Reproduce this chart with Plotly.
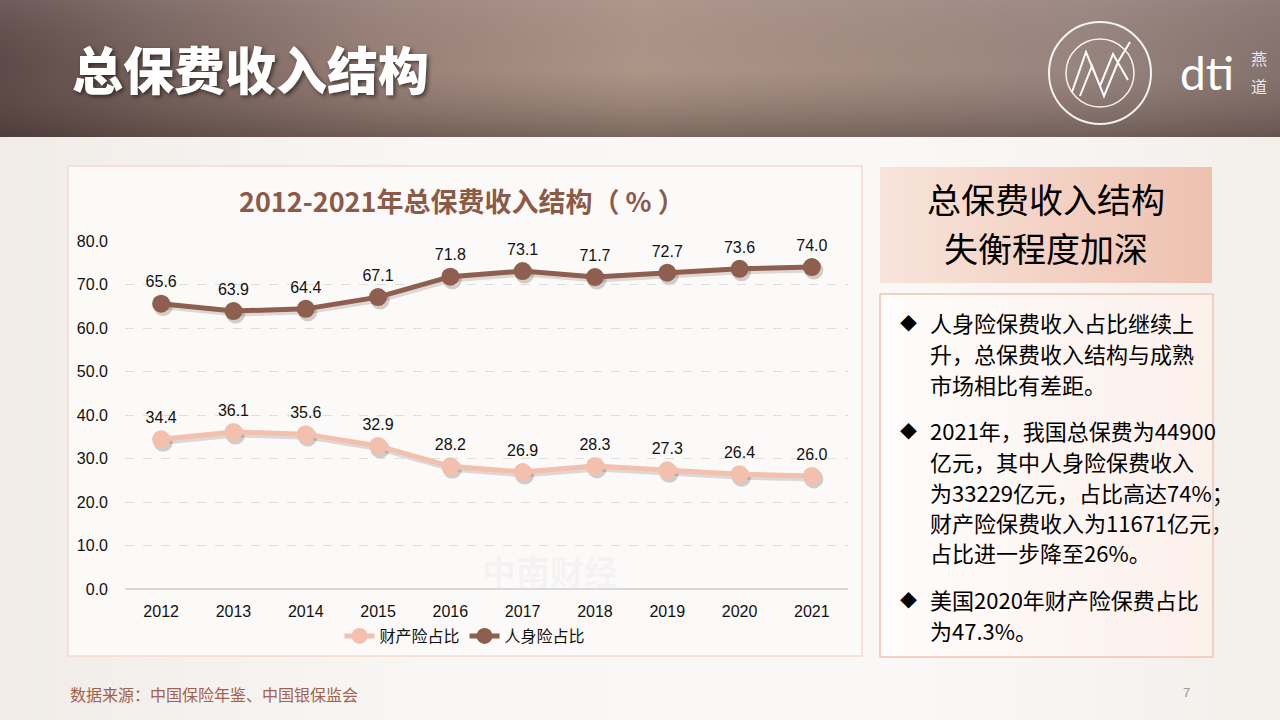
import plotly.graph_objects as go

years = ['2012', '2013', '2014', '2015', '2016', '2017', '2018', '2019', '2020', '2021']
property_share = [34.4, 36.1, 35.6, 32.9, 28.2, 26.9, 28.3, 27.3, 26.4, 26.0]
life_share = [65.6, 63.9, 64.4, 67.1, 71.8, 73.1, 71.7, 72.7, 73.6, 74.0]
series_names = ['财产险占比', '人身险占比']
series_colors = ['#f2c0ad', '#8e5e4e']
y_ticks = [0, 10, 20, 30, 40, 50, 60, 70, 80]

page_title = '总保费收入结构'
chart_title = '2012-2021年总保费收入结构（ % ）'
side_title = ['总保费收入结构', '失衡程度加深']
bullets = [
    ['人身险保费收入占比继续上', '升，总保费收入结构与成熟', '市场相比有差距。'],
    ['2021年，我国总保费为44900', '亿元，其中人身险保费收入', '为33229亿元，占比高达74%；',
     '财产险保费收入为11671亿元，', '占比进一步降至26%。'],
    ['美国2020年财产险保费占比', '为47.3%。'],
]
source_note = '数据来源：中国保险年鉴、中国银保监会'
page_no = '7'

W, H = 1280, 720
CJK = 'Noto Sans CJK SC'
NUM = 'Liberation Sans, Arial, sans-serif'

# plot area in pixels
PL, PR, PT, PB = 125, 848, 241, 589


def dom_x(a, b):
    return [a / W, b / W]


def dom_y(top, bottom):
    return [1 - bottom / H, 1 - top / H]


fig = go.Figure()


def box(x0, y0, x1, y1, fill=None, grad=None, line=None, lw=0):
    t = go.Scatter(
        x=[x0, x1, x1, x0, x0], y=[y0, y0, y1, y1, y0],
        mode='lines', fill='toself', hoverinfo='skip', showlegend=False,
        line=dict(color=line or 'rgba(0,0,0,0)', width=lw),
        xaxis='x', yaxis='y',
    )
    if grad:
        t.fillgradient = grad
    else:
        t.fillcolor = fill
    fig.add_trace(t)


# slide background
box(0, 137, W, H, grad=dict(type='horizontal', colorscale=[
    [0, '#f1ece8'], [0.35, '#f9f7f5'], [0.7, '#faf8f6'], [1, '#f3efeb']]))
# header photo stand-in
box(0, 0, W, 137, grad=dict(type='horizontal', colorscale=[
    [0, '#5a4847'], [0.12, '#76625e'], [0.3, '#9a8279'], [0.5, '#b0978a'],
    [0.7, '#a48d83'], [0.85, '#9a8680'], [1, '#85736f']]))
box(0, 0, W, 137, grad=dict(type='vertical', colorscale=[
    [0, 'rgba(60,45,40,0.45)'], [0.5, 'rgba(120,100,90,0.05)'], [1, 'rgba(170,150,150,0.25)']]))

# chart panel
box(68, 166, 862, 656, fill='rgba(252,250,248,0.95)', line='#f2dad0', lw=1.5)
# side panels
box(880, 167, 1212, 283, grad=dict(type='horizontal', colorscale=[
    [0, '#f8e4db'], [1, '#eec1af']]))
box(880, 294, 1213, 657, grad=dict(type='horizontal', colorscale=[
    [0, '#fefcfb'], [1, '#fcf0eb']]), line='#efc4b4', lw=1.5)

# marker shadows
for vals in [property_share, life_share]:
    fig.add_trace(go.Scatter(
        x=years, y=vals, mode='lines+markers', xaxis='x2', yaxis='y2',
        line=dict(color='rgba(60,40,30,0.16)', width=5),
        marker=dict(size=19, color='rgba(60,40,30,0.22)'),
        hoverinfo='skip', showlegend=False,
    ))

for name, vals, col in zip(series_names, [property_share, life_share], series_colors):
    fig.add_trace(go.Scatter(
        x=years, y=vals, name=name, mode='lines+markers+text',
        xaxis='x3', yaxis='y3',
        line=dict(color=col, width=5),
        marker=dict(size=18, color=col),
        text=[f'{v:.1f}' for v in vals], textposition='top center',
        textfont=dict(family=NUM, size=16, color='#111111'),
        cliponaxis=False,
    ))

ann = []


def label(x, y, text, size, color='#000000', family=CJK, xanchor='center', weight=None, shadow=None):
    f = dict(family=family, size=size, color=color)
    if weight:
        f['weight'] = weight
    if shadow:
        f['shadow'] = shadow
    ann.append(dict(x=x, y=y, xref='x', yref='y', text=text, showarrow=False,
                    xanchor=xanchor, yanchor='middle', font=f))


label(70, 68, page_title, 51, color='#ffffff', xanchor='left', weight=900,
      shadow='2px 2px 4px rgba(0,0,0,0.55)')
label(462, 200, chart_title, 27, color='#8c5a48', weight=700)
label(1046, 198, side_title[0], 34)
label(1046, 247, side_title[1], 34)

line_y = [[322, 353, 384], [430, 461, 492, 522, 552], [599, 630]]
for para, ys in zip(bullets, line_y):
    label(908, ys[0], '◆', 17)
    for txt, yy in zip(para, ys):
        label(928, yy, txt, 22, xanchor='left')

label(68, 694, source_note, 16, color='#a2624c', xanchor='left')
label(1186, 692, page_no, 13, color='#9a9a9a', family=NUM)
label(550, 570, '中南财经', 34, color='rgba(190,190,200,0.12)', weight=700)

# logo
label(1207, 72, 'dti', 46, color='#ffffff', family='Lato, Open Sans, sans-serif')
label(1259, 58, '燕', 16, color='rgba(255,255,255,0.85)')
label(1259, 86, '道', 16, color='rgba(255,255,255,0.85)')

shapes = [
    dict(type='circle', xref='x', yref='y', x0=1049, y0=22, x1=1151, y1=124,
         line=dict(color='rgba(255,255,255,0.9)', width=2)),
    dict(type='circle', xref='x', yref='y', x0=1066, y0=39, x1=1134, y1=107,
         line=dict(color='rgba(255,255,255,0.9)', width=1.5)),
    dict(type='path', xref='x', yref='y',
         path='M1072,92 L1086,52 L1100,86 L1113,54 L1128,80 M1080,96 L1092,66 L1104,96 L1118,62 L1130,42',
         line=dict(color='#ffffff', width=2)),
]

fig.update_layout(
    width=W, height=H,
    margin=dict(l=0, r=0, t=0, b=0, pad=0, autoexpand=False),
    paper_bgcolor='#f6f2ee', plot_bgcolor='rgba(0,0,0,0)',
    annotations=ann, shapes=shapes,
    xaxis=dict(domain=[0, 1], range=[0, W], visible=False, fixedrange=True),
    yaxis=dict(domain=[0, 1], range=[H, 0], visible=False, fixedrange=True),
    xaxis2=dict(domain=dom_x(PL + 2, PR + 2), type='category', range=[-0.5, 9.5], visible=False),
    yaxis2=dict(domain=dom_y(PT + 3, PB + 3), range=[0, 80], visible=False),
    xaxis3=dict(domain=dom_x(PL, PR), type='category', range=[-0.5, 9.5],
                showgrid=False, showline=False, ticks='', ticklabelstandoff=11,
                tickfont=dict(family=NUM, size=16, color='#111111'), anchor='y3'),
    yaxis3=dict(domain=dom_y(PT, PB), range=[0, 80], tickvals=y_ticks, tickformat='.1f',
                showgrid=True, gridcolor='#dedede', griddash='dash', gridwidth=1,
                zeroline=True, zerolinecolor='#d9d9d9', zerolinewidth=1.5,
                showline=False, ticks='', ticklabelstandoff=16,
                tickfont=dict(family=NUM, size=16, color='#111111'), anchor='x3'),
    legend=dict(orientation='h', x=465 / W, y=1 - 636 / H, xanchor='center', yanchor='middle',
                bgcolor='rgba(0,0,0,0)', font=dict(family=CJK, size=16, color='#111111'),
                itemwidth=30, tracegroupgap=0),
    showlegend=True,
)

fig.write_html('out.html', config={'displayModeBar': False},
               post_script="document.body.style.margin='0';document.body.style.overflow='hidden';")
